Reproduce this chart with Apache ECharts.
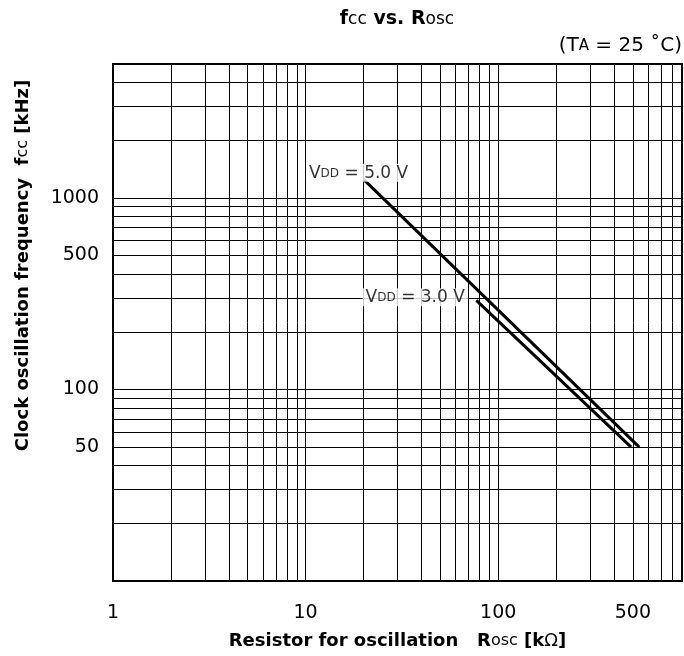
<!DOCTYPE html>
<html><head><meta charset="utf-8">
<script src="https://cdn.jsdelivr.net/npm/echarts@6/dist/echarts.min.js"></script>
<style>html,body{margin:0;padding:0;background:#fff}#c{width:684px;height:656px}</style>
</head><body><div id="c"></div>
<script>
// ---- data ----
const xGridValues = [1,2,3,4,5,6,7,8,9,10,20,30,40,50,60,70,80,90,100,200,300,400,500,600,700,800,900];
const yGridValues = [10,20,30,40,50,60,70,80,90,100,200,300,400,500,600,700,800,900,1000,2000,3000,4000,5000];
const xTickLabels = [1, 10, 100, 500];
const yTickLabels = [50, 100, 500, 1000];
const lineLabels = ['5.0 V', '3.0 V'];
const vdd5Resistor = [20, 540];
const vdd5Freq = [1250, 50];
const vdd3Resistor = [77, 490];
const vdd3Freq = [292, 50];

const FF = 'DejaVu Sans';
const chart = echarts.init(document.getElementById('c'), null, {renderer: 'canvas'});

const pair = (xs, ys) => xs.map((x, i) => [x, ys[i]]);
const plain = v => String(v);
const labelRich = {
  v: {fontFamily: FF, fontSize: 17, color: '#000'},
  s: {fontFamily: FF, fontSize: 12, color: '#000', verticalAlign: 'bottom', padding: [0, 0, 2, 0]}
};

chart.setOption({
  animation: false,
  backgroundColor: '#fff',
  title: [{
    text: '{b|f}{s|cc}{b| vs. R}{s|osc}',
    left: 397, top: 10, textAlign: 'center', textVerticalAlign: 'top', padding: 0,
    textStyle: {rich: {
      b: {fontFamily: FF, fontWeight: 'bold', fontSize: 19, color: '#000'},
      s: {fontFamily: FF, fontWeight: 'normal', fontSize: 17, color: '#000', verticalAlign: 'bottom', padding: [0, 0, 1, 0]}
    }}
  }, {
    text: '{n|(T}{a|A}{n| = 25 ˚C)}',
    left: 682, top: 36, textAlign: 'right', textVerticalAlign: 'top', padding: 0,
    textStyle: {fontWeight: 'normal', rich: {
      n: {fontFamily: FF, fontWeight: 'normal', fontSize: 20, color: '#000'},
      a: {fontFamily: FF, fontWeight: 'normal', fontSize: 15, color: '#000', verticalAlign: 'bottom', padding: [0, 0, 2, 0]}
    }}
  }],
  grid: {left: 113, right: 2, top: 64, bottom: 75, show: true, borderColor: '#000', borderWidth: 2,
         containLabel: false, outerBoundsMode: 'none'},
  xAxis: {
    type: 'log', logBase: 10, min: 1, max: 900,
    name: '{b|Resistor for oscillation   R}{s|osc}{b| [k}{o|Ω}{b|]}',
    nameLocation: 'middle', nameGap: 51,
    nameTextStyle: {rich: {
      b: {fontFamily: FF, fontWeight: 'bold', fontSize: 18, color: '#000'},
      s: {fontFamily: FF, fontWeight: 'normal', fontSize: 16, color: '#000', verticalAlign: 'bottom', padding: [0, 0, 1, 0]},
      o: {fontFamily: FF, fontWeight: 'normal', fontSize: 18, color: '#000'}
    }},
    axisLine: {show: false},
    axisTick: {show: false, customValues: xGridValues},
    axisLabel: {customValues: xTickLabels, formatter: plain, margin: 23, fontFamily: FF, fontSize: 19, color: '#000'},
    splitLine: {show: true, lineStyle: {color: '#000', width: 1}},
    minorTick: {show: false}, minorSplitLine: {show: false}
  },
  yAxis: {
    type: 'log', logBase: 10, min: 10, max: 5000,
    name: '{b|Clock oscillation frequency  f}{s|cc}{b| [kHz]}',
    nameLocation: 'middle', nameGap: 81,
    nameTextStyle: {padding: [0, 0, 0, 114], rich: {
      b: {fontFamily: FF, fontWeight: 'bold', fontSize: 18, color: '#000'},
      s: {fontFamily: FF, fontWeight: 'normal', fontSize: 16, color: '#000', verticalAlign: 'bottom', padding: [0, 0, 1, 0]}
    }},
    axisLine: {show: false},
    axisTick: {show: false, customValues: yGridValues},
    axisLabel: {customValues: yTickLabels, formatter: plain, margin: 14, fontFamily: FF, fontSize: 19, color: '#000'},
    splitLine: {show: true, lineStyle: {color: '#000', width: 1}},
    minorTick: {show: false}, minorSplitLine: {show: false}
  },
  series: [{
    type: 'line', name: 'VDD = 5.0 V', data: pair(vdd5Resistor, vdd5Freq),
    symbol: 'none', showSymbol: false, silent: true, z: 2,
    lineStyle: {color: '#000', width: 3}
  }, {
    type: 'line', name: 'VDD = 3.0 V', data: pair(vdd3Resistor, vdd3Freq),
    symbol: 'none', showSymbol: false, silent: true, z: 2,
    lineStyle: {color: '#000', width: 3}
  }, {
    type: 'scatter', silent: true, z: 3, symbolSize: 1,
    itemStyle: {color: 'rgba(0,0,0,0)'},
    label: {show: true, color: '#000', backgroundColor: '#fff', padding: [1, 3, 0, 3],
            formatter: p => '{v|V}{s|DD}{v| = ' + lineLabels[p.dataIndex] + '}', rich: labelRich},
    data: [
      {value: [vdd5Resistor[0], vdd5Freq[0]], label: {position: 'top', distance: 0, offset: [-5, 3]}},
      {value: [vdd3Resistor[0], vdd3Freq[0]], label: {position: 'left', distance: 8, offset: [0, -3]}}
    ]
  }]
});
</script></body></html>
